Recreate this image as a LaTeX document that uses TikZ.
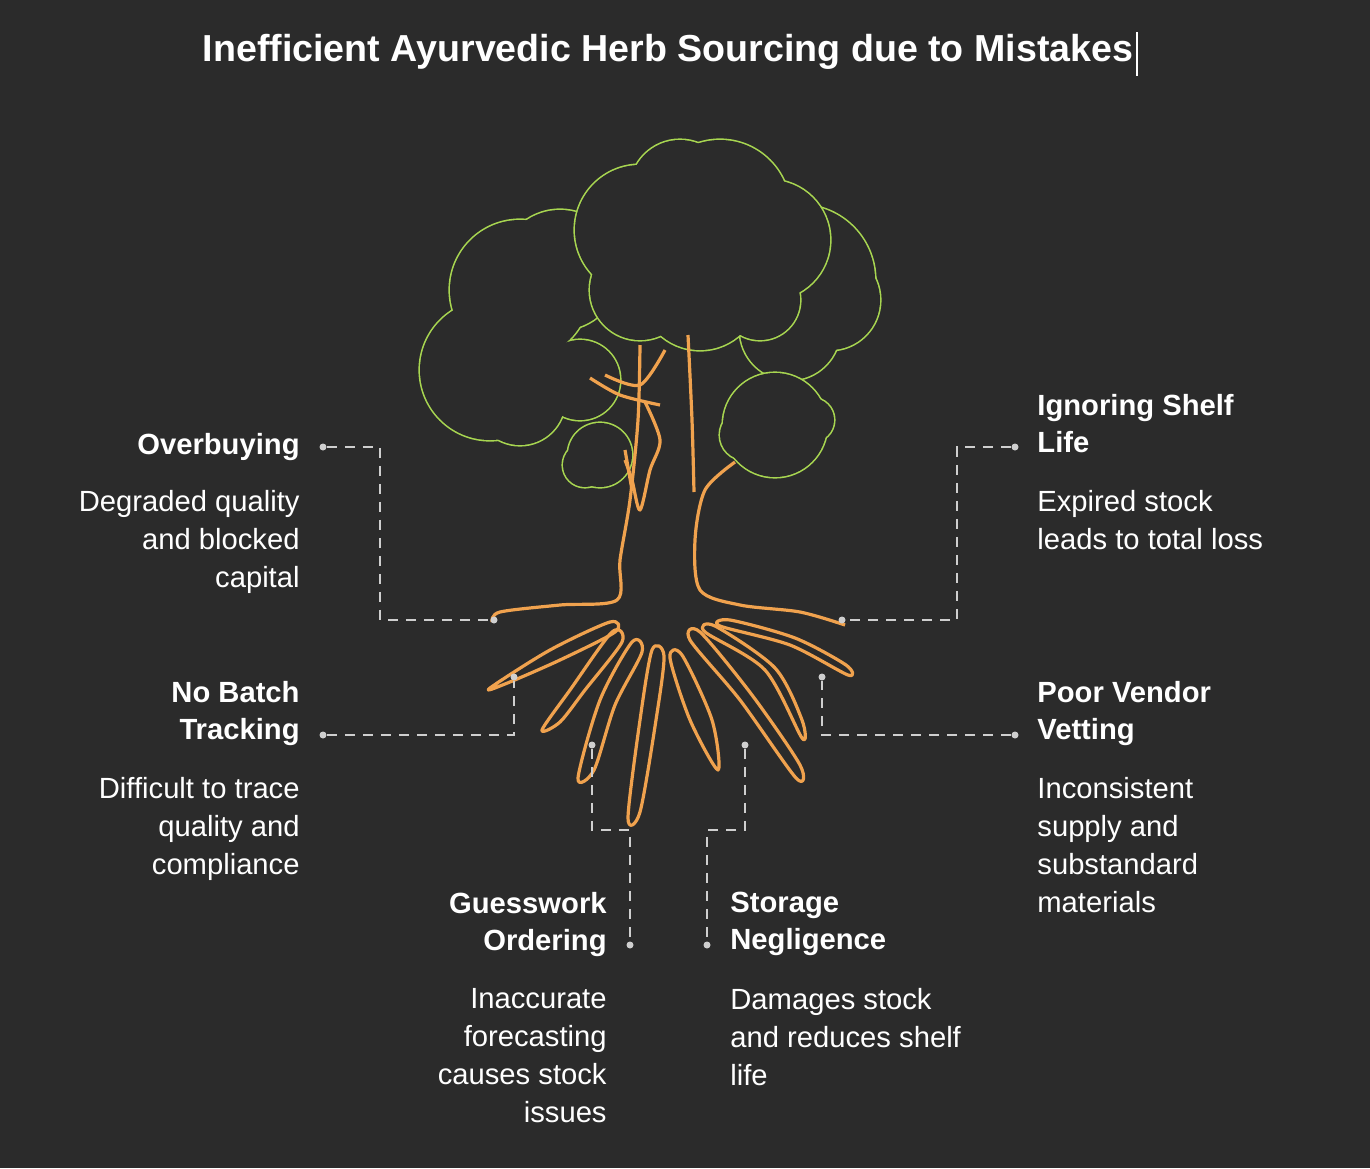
\documentclass[tikz,border=0pt]{standalone}
\usepackage{fontspec}
\setmainfont{Liberation Sans}
\definecolor{bg}{HTML}{2B2B2B}
\definecolor{leaf}{HTML}{A8D651}
\definecolor{wood}{HTML}{F0A24E}
\definecolor{dashc}{HTML}{CFCFCF}
\begin{document}
\begin{tikzpicture}[x=0.5pt,y=-0.5pt,
  ttl/.style={font=\bfseries\fontsize{14.6}{18.5}\selectfont,text=white,inner sep=0pt},
  dsc/.style={font=\fontsize{14.6}{19}\selectfont,text=white,inner sep=0pt},
  conn/.style={draw=dashc,line width=1.1pt,dash pattern=on 5pt off 4pt},
  dotn/.style={circle,fill=dashc,inner sep=0pt,minimum size=3.5pt},
  root/.style={wood,line width=1.6pt,line join=round}]
\fill[bg] (0,0) rectangle (1370,1168);
\useasboundingbox (0,0) rectangle (1370,1168);
\node[font=\bfseries\fontsize{18.8}{22}\selectfont,text=white] (title) at (668,52) {Inefficient Ayurvedic Herb Sourcing due to Mistakes};
\draw[white,line width=0.6pt] (1137,32) -- (1137,76);
% clouds
\newcommand{\cloud}[1]{%
  \foreach \cx/\cy/\r in {#1} {\draw[leaf,line width=1.6pt] (\cx,\cy) circle[radius=\r];}
  \foreach \cx/\cy/\r in {#1} {\fill[bg] (\cx,\cy) circle[radius=\r];}}
\cloud{520/290/70, 490/370/70, 520/400/45, 580/380/40, 560/270/60}
\cloud{800/280/75, 830/300/50, 790/330/50}
\cloud{640/230/65, 720/210/70, 680/190/50, 770/240/60, 700/290/60, 640/290/50, 760/300/40}
\cloud{775/425/52, 745/435/25, 812/420/22}
\cloud{600/455/32, 585/465/22}
% trunk
\draw[root] plot[smooth] coordinates {(640,345) (638,420) (630,500) (620,560) (617,600) (560,605) (500,612) (492,622)};
\draw[root] plot[smooth] coordinates {(688,335) (692,420) (694,492)};
\draw[root] plot[smooth] coordinates {(735,462) (705,490) (695,540) (700,590) (740,605) (800,612) (845,625)};
\draw[root] plot[smooth] coordinates {(590,378) (620,395) (660,405)};
\draw[root] plot[smooth] coordinates {(605,375) (640,385) (665,350)};
\draw[root] plot[smooth] coordinates {(645,402) (660,440) (650,470) (640,510) (632,480) (625,460)};
\draw[root] plot[smooth] coordinates {(625,450) (632,490)};
% roots
\draw[root] plot[smooth cycle] coordinates {(610,622) (550,650) (490,688) (505,684) (560,660) (615,632)};
\draw[root] plot[smooth cycle] coordinates {(612,632) (570,690) (542,730) (560,722) (585,690) (622,642)};
\draw[root] plot[smooth cycle] coordinates {(632,642) (600,700) (578,778) (594,770) (615,705) (642,652)};
\draw[root] plot[smooth cycle] coordinates {(652,650) (640,720) (628,818) (640,812) (656,720) (664,656)};
\draw[root] plot[smooth cycle] coordinates {(670,658) (690,720) (718,770) (712,720) (682,655)};
\draw[root] plot[smooth cycle] coordinates {(690,640) (740,700) (796,778) (800,765) (752,695) (700,632)};
\draw[root] plot[smooth cycle] coordinates {(705,632) (765,670) (802,738) (802,720) (775,668) (715,626)};
\draw[root] plot[smooth cycle] coordinates {(720,626) (790,645) (848,675) (846,665) (795,638) (730,620)};
% dots
\node[dotn] (d1a) at (323,447) {}; \node[dotn] (d1b) at (494,620) {};
\node[dotn] (d2a) at (1015,447) {}; \node[dotn] (d2b) at (842,620) {};
\node[dotn] (d3a) at (323,735) {}; \node[dotn] (d3b) at (514,677) {};
\node[dotn] (d4a) at (1015,735) {}; \node[dotn] (d4b) at (822,677) {};
\node[dotn] (d5a) at (592,745) {}; \node[dotn] (d5b) at (630,945) {};
\node[dotn] (d6a) at (745,745) {}; \node[dotn] (d6b) at (707,945) {};
\draw[conn] (d1a) -| (380,620) -- (d1b);
\draw[conn] (d2a) -| (957,620) -- (d2b);
\draw[conn] (d3a) -| (d3b);
\draw[conn] (d4a) -| (d4b);
\draw[conn] (d5a) |- (630,830) -- (d5b);
\draw[conn] (d6a) |- (707,830) -- (d6b);
% texts
\node[ttl,anchor=east,align=right] (t1) at (300,447) {Overbuying};
\node[dsc,anchor=north east,align=right] (s1) at (300,490) {Degraded quality\\and blocked\\capital};
\node[ttl,anchor=north west,align=left] (t2) at (1037,394) {Ignoring Shelf\\Life};
\node[dsc,anchor=north west,align=left] (s2) at (1037,490) {Expired stock\\leads to total loss};
\node[ttl,anchor=north east,align=right] (t3) at (300,681) {No Batch\\Tracking};
\node[dsc,anchor=north east,align=right] (s3) at (300,777) {Difficult to trace\\quality and\\compliance};
\node[ttl,anchor=north west,align=left] (t4) at (1037,681) {Poor Vendor\\Vetting};
\node[dsc,anchor=north west,align=left] (s4) at (1037,777) {Inconsistent\\supply and\\substandard\\materials};
\node[ttl,anchor=north east,align=right] (t5) at (607,892) {Guesswork\\Ordering};
\node[dsc,anchor=north east,align=right] (s5) at (607,988) {Inaccurate\\forecasting\\causes stock\\issues};
\node[ttl,anchor=north west,align=left] (t6) at (730,892) {Storage\\Negligence};
\node[dsc,anchor=north west,align=left] (s6) at (730,988) {Damages stock\\and reduces shelf\\life};
\end{tikzpicture}
\end{document}
